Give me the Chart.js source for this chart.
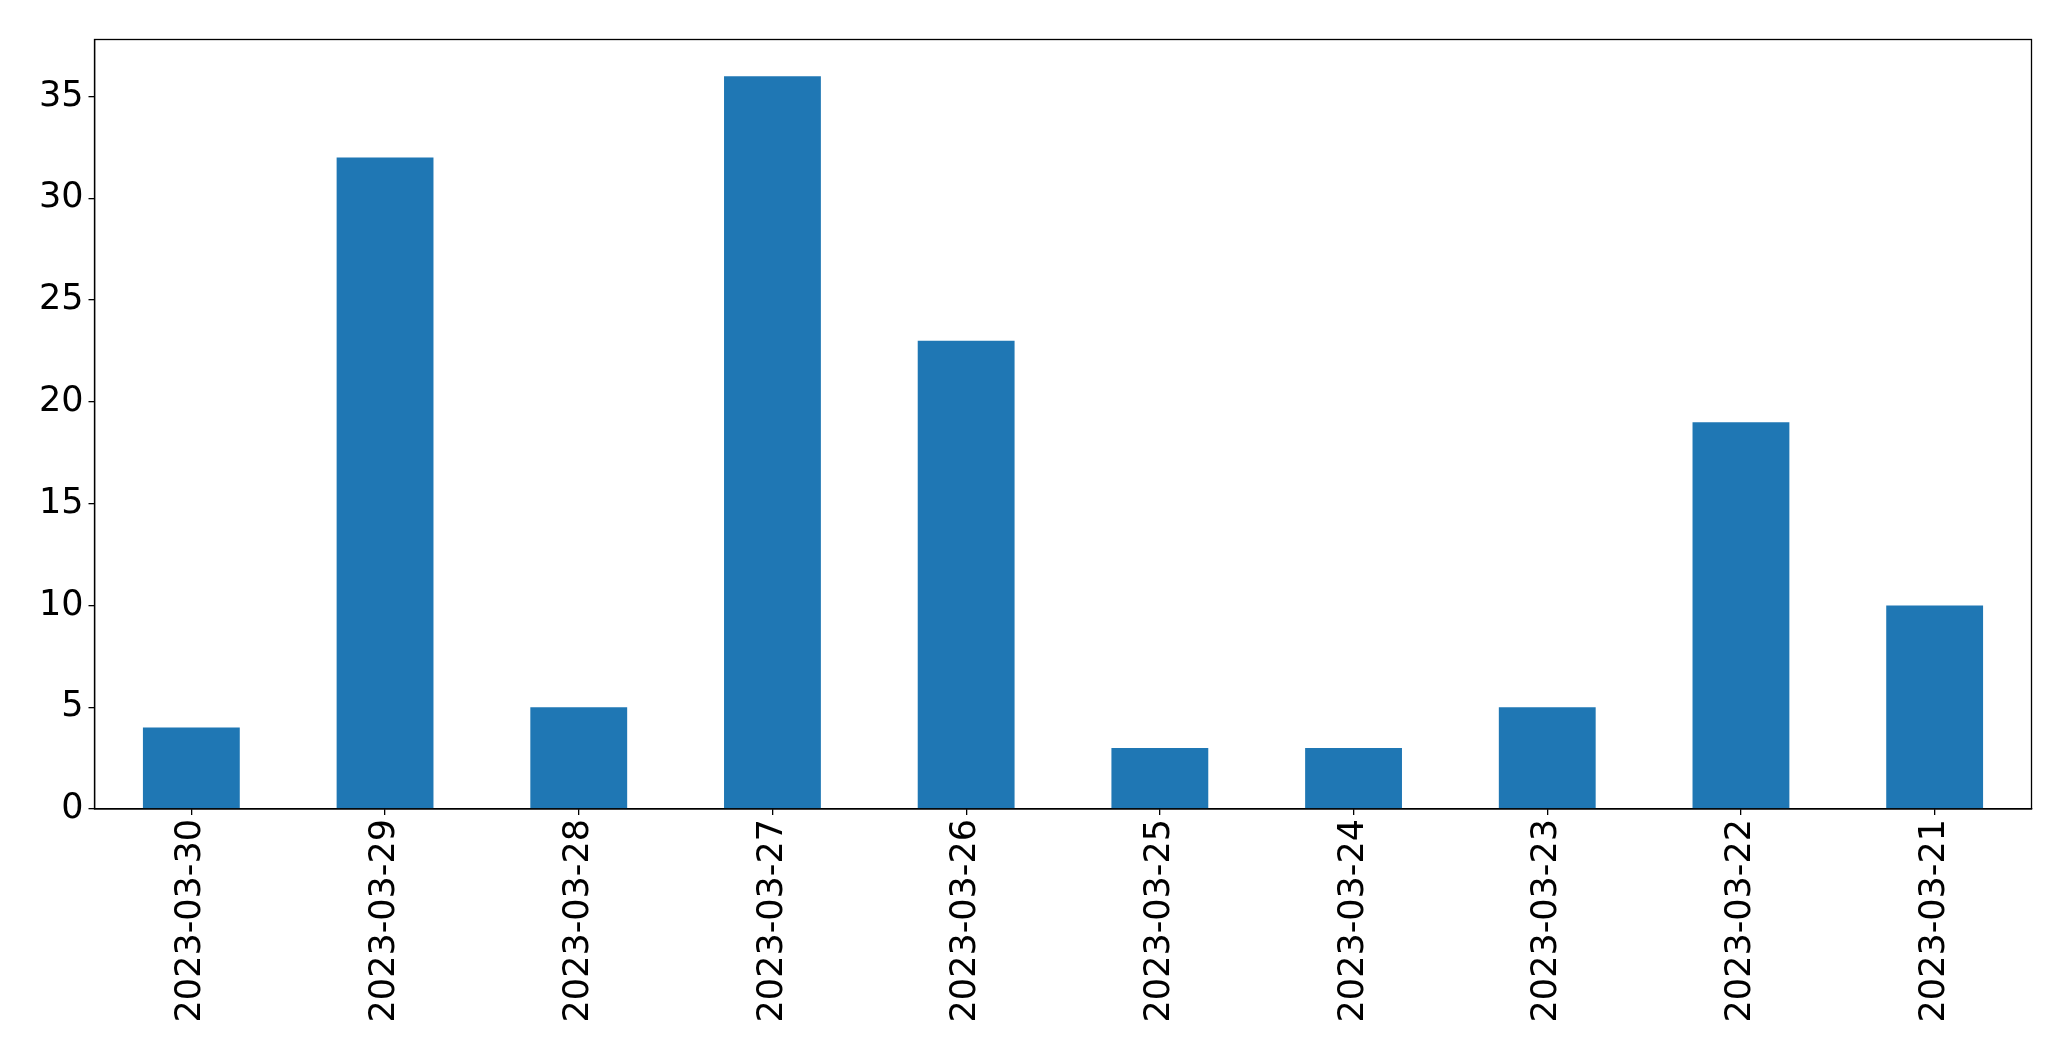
<!DOCTYPE html>
<html>
<head>
<meta charset="utf-8">
<script src="https://cdn.jsdelivr.net/npm/chart.js@4"></script>
<style>
  html, body { margin: 0; padding: 0; background: #fff; }
  #wrap { width: 2071px; height: 1061px; }
</style>
</head>
<body>
<div id="wrap"><canvas id="chart" width="2071" height="1061"></canvas></div>
<script>
let dates = ["2023-03-30", "2023-03-29", "2023-03-28", "2023-03-27", "2023-03-26",
             "2023-03-25", "2023-03-24", "2023-03-23", "2023-03-22", "2023-03-21"];
let counts = [4, 32, 5, 36, 23, 3, 3, 5, 19, 10];
let yMax = 37.8;
let yStep = 5;

// box round the plot area, like the matplotlib axes frame
let frame = {
    id: "frame",
    afterDraw(chart) {
        let a = chart.chartArea;
        let ctx = chart.ctx;
        ctx.save();
        ctx.strokeStyle = "#000";
        ctx.lineWidth = 1.3;
        ctx.strokeRect(a.left, a.top, a.right - a.left, a.bottom - a.top);
        ctx.restore();
    }
};

let font = { family: "'DejaVu Sans'", size: 35 };

new Chart(document.getElementById("chart"), {
    type: "bar",
    data: {
        labels: dates,
        datasets: [{
            data: counts,
            backgroundColor: "#1f77b4",
            barPercentage: 0.5,
            categoryPercentage: 1.0
        }]
    },
    options: {
        responsive: false,
        animation: false,
        layout: { padding: { left: 0, top: 39.5, right: 39.5, bottom: 0 } },
        plugins: { legend: { display: false }, tooltip: { enabled: false } },
        scales: {
            x: {
                grid: { display: true, offset: false, drawOnChartArea: false, tickLength: 6, color: "#000", lineWidth: 1.3 },
                border: { display: true, color: "#000", width: 1.3 },
                ticks: { color: "#000", font: font, minRotation: 90, maxRotation: 90, padding: 4, autoSkip: false },
                afterFit(scale) { scale.height = 252; }
            },
            y: {
                min: 0,
                max: yMax,
                grid: { display: true, drawOnChartArea: false, tickLength: 6, color: "#000", lineWidth: 1.3 },
                border: { display: true, color: "#000", width: 1.3 },
                ticks: { color: "#000", font: font, stepSize: yStep, padding: 5 },
                afterBuildTicks(scale) {
                    scale.ticks = scale.ticks.filter(t => t.value % yStep === 0);
                },
                afterFit(scale) { scale.width = 94.5; }
            }
        }
    },
    plugins: [frame]
});
</script>
</body>
</html>
